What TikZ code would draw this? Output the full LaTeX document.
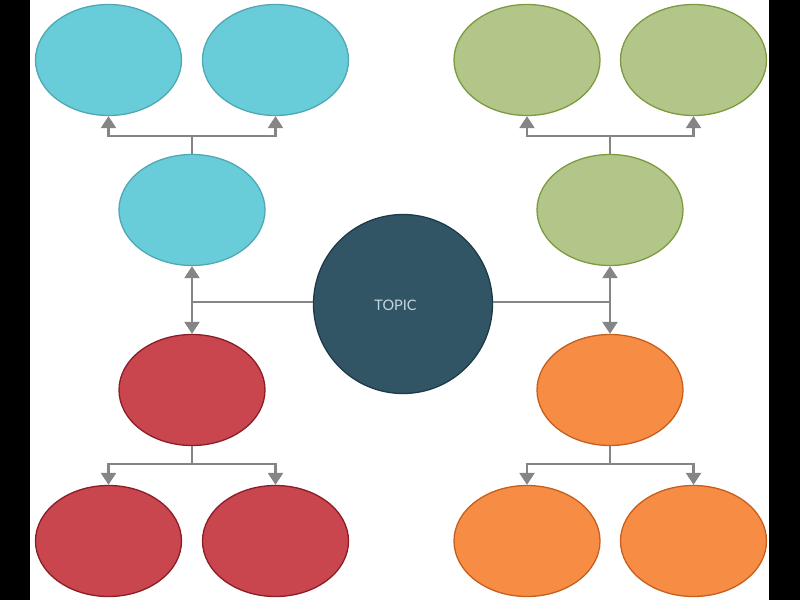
\documentclass[tikz,border=0pt]{standalone}
\usepackage{fontspec}
\setsansfont{Lato}
\usetikzlibrary{arrows.meta,shapes.geometric}
\definecolor{cyanF}{HTML}{69CDD9}
\definecolor{cyanD}{HTML}{4FA8B4}
\definecolor{greenF}{HTML}{B3C68A}
\definecolor{greenD}{HTML}{7E9A3E}
\definecolor{redF}{HTML}{C9464F}
\definecolor{redD}{HTML}{8A1E26}
\definecolor{oranF}{HTML}{F78C45}
\definecolor{oranD}{HTML}{C65F1C}
\definecolor{topF}{HTML}{325566}
\definecolor{topD}{HTML}{1C3A4A}
\definecolor{topT}{HTML}{C3D6DE}
\definecolor{lineC}{HTML}{858585}
\begin{document}
\begin{tikzpicture}[x=1pt,y=-1pt,
  bubble/.style={ellipse,draw,line width=1.3pt,minimum width=146pt,minimum height=111pt,inner sep=0pt},
  cyanb/.style={bubble,fill=cyanF,draw=cyanD},
  greenb/.style={bubble,fill=greenF,draw=greenD},
  redb/.style={bubble,fill=redF,draw=redD},
  oranb/.style={bubble,fill=oranF,draw=oranD},
  conn/.style={draw=lineC,line width=2.4pt},
  arr/.style={conn,-{Triangle[width=15pt,length=12pt]}}
]
\useasboundingbox (0,0) rectangle (800,600);
\fill[black] (0,0) rectangle (30,600);
\fill[black] (769,0) rectangle (800,600);
% topic
\node[circle,draw=topD,fill=topF,line width=1.3pt,minimum size=179pt,inner sep=0pt] (topic) at (403,304) {};
\node[inner sep=0pt,text=topT,font=\sffamily\fontsize{14.5}{16}\selectfont] (topiclabel) at (395.5,305) {TOPIC};
% left cluster
\node[cyanb] (c1) at (108.5,60) {};
\node[cyanb] (c2) at (275.5,60) {};
\node[cyanb] (cm) at (192,210) {};
\node[redb] (rm) at (192,390) {};
\node[redb] (r1) at (108.5,541) {};
\node[redb] (r2) at (275.5,541) {};
% right cluster
\node[greenb] (g1) at (527,60) {};
\node[greenb] (g2) at (693.5,60) {};
\node[greenb] (gm) at (610,210) {};
\node[oranb] (om) at (610,390) {};
\node[oranb] (o1) at (527,541) {};
\node[oranb] (o2) at (693.5,541) {};
% junction coordinates
\coordinate (jl) at (192,302);
\coordinate (jr) at (610,302);
\coordinate (jct) at (192,136);
\coordinate (jcb) at (192,464);
\coordinate (jgt) at (610,136);
\coordinate (jgb) at (610,464);
% connectors
\draw[conn] (topic.west |- jl) -- (jl);
\draw[arr] (jl) -- (cm.south);
\draw[arr] (jl) -- (rm.north);
\draw[conn] (topic.east |- jr) -- (jr);
\draw[arr] (jr) -- (gm.south);
\draw[arr] (jr) -- (om.north);
\draw[conn] (cm.north) -- (jct);
\draw[arr] (jct) -| (c1.south);
\draw[arr] (jct) -| (c2.south);
\draw[conn] (rm.south) -- (jcb);
\draw[arr] (jcb) -| (r1.north);
\draw[arr] (jcb) -| (r2.north);
\draw[conn] (gm.north) -- (jgt);
\draw[arr] (jgt) -| (g1.south);
\draw[arr] (jgt) -| (g2.south);
\draw[conn] (om.south) -- (jgb);
\draw[arr] (jgb) -| (o1.north);
\draw[arr] (jgb) -| (o2.north);
\end{tikzpicture}
\end{document}
